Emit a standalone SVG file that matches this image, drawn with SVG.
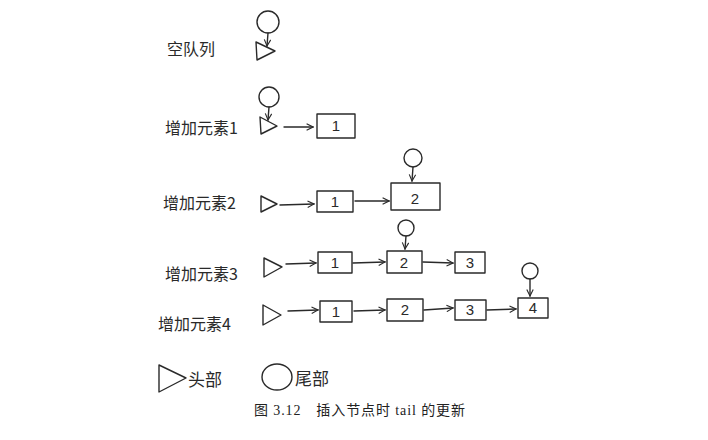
<svg xmlns="http://www.w3.org/2000/svg" width="708" height="440" viewBox="0 0 708 440">
<style>
.s{fill:none;stroke:#2a2a2a;stroke-width:1.4;stroke-linecap:round;stroke-linejoin:round}
.lab{font-family:"Noto Sans CJK SC",sans-serif;font-size:16px;fill:#2a2a2a}
.num{font-family:"Liberation Sans",sans-serif;font-size:15px;fill:#2a2a2a;text-anchor:middle}
.cap{font-family:"Liberation Serif","Noto Sans CJK SC",serif;font-size:14px;fill:#222}
</style>
<defs>
<marker id="ah" viewBox="0 0 10 10" refX="9" refY="5" markerWidth="8" markerHeight="8" markerUnits="userSpaceOnUse" orient="auto">
<path d="M1,1 L9,5 L1,9" fill="none" stroke="#2a2a2a" stroke-width="1.4"/>
</marker>
</defs>
<rect width="708" height="440" fill="#fff"/>

<g id="row0">
<text class="lab" x="167" y="55">空队列</text>
<circle class="s" cx="268" cy="22" r="11"/>
<polygon id="head0" class="s" points="256,42 275,51 257,60"/>
</g>

<g id="row1">
<text class="lab" x="165" y="134">增加元素1</text>
<circle class="s" cx="269" cy="97" r="10"/>
<polygon class="s" points="260,117 277,126 261,134"/>
<g id="r1n1"><rect class="s" x="317" y="114" width="38" height="24"/><text class="num" x="336" y="131">1</text></g>
</g>

<g id="row2">
<text class="lab" x="163" y="209">增加元素2</text>
<polygon class="s" points="261,196 277,204 261,212"/>
<g id="r2n1"><rect class="s" x="317" y="191" width="36" height="21"/><text class="num" x="335" y="207">1</text></g>
<g id="r2n2"><rect class="s" x="391" y="183" width="49" height="27"/><text class="num" x="415" y="204">2</text></g>
<circle class="s" cx="413" cy="158" r="9"/>
</g>

<g id="row3">
<text class="lab" x="165" y="280">增加元素3</text>
<polygon class="s" points="264,258 282,267 264,277"/>
<g id="r3n1"><rect class="s" x="318" y="252" width="34" height="21"/><text class="num" x="335" y="268">1</text></g>
<g id="r3n2"><rect class="s" x="387" y="251" width="35" height="22"/><text class="num" x="404" y="268">2</text></g>
<g id="r3n3"><rect class="s" x="455" y="252" width="30" height="21"/><text class="num" x="470" y="268">3</text></g>
<circle class="s" cx="406" cy="228" r="8"/>
</g>

<g id="row4">
<text class="lab" x="158" y="330">增加元素4</text>
<polygon class="s" points="263,305 281,315 263,325"/>
<g id="r4n1"><rect class="s" x="320" y="301" width="32" height="21"/><text class="num" x="336" y="317">1</text></g>
<g id="r4n2"><rect class="s" x="387" y="299" width="36" height="22"/><text class="num" x="405" y="315">2</text></g>
<g id="r4n3"><rect class="s" x="455" y="300" width="31" height="20"/><text class="num" x="470" y="315">3</text></g>
<g id="r4n4"><rect class="s" x="518" y="298" width="30" height="20"/><text class="num" x="533" y="313">4</text></g>
<circle class="s" cx="530" cy="271" r="8"/>
</g>

<g id="legend">
<polygon class="s" points="159,365 186,378 159,392"/>
<text class="lab" x="188" y="386" style="font-size:17px">头部</text>
<ellipse class="s" cx="277" cy="377" rx="15" ry="13"/>
<text class="lab" x="295" y="385" style="font-size:17px">尾部</text>
</g>

<g id="connectors">
<line class="s" x1="268" y1="33" x2="267" y2="46" marker-end="url(#ah)"/>
<line class="s" x1="269" y1="107" x2="268" y2="120" marker-end="url(#ah)"/>
<line class="s" x1="284" y1="127" x2="313" y2="127" marker-end="url(#ah)"/>
<line class="s" x1="280" y1="205" x2="314" y2="204" marker-end="url(#ah)"/>
<line class="s" x1="355" y1="201" x2="389" y2="201" marker-end="url(#ah)"/>
<line class="s" x1="413" y1="167" x2="412" y2="181" marker-end="url(#ah)"/>
<line class="s" x1="286" y1="264" x2="316" y2="263" marker-end="url(#ah)"/>
<line class="s" x1="353" y1="263" x2="385" y2="262" marker-end="url(#ah)"/>
<line class="s" x1="423" y1="262" x2="453" y2="263" marker-end="url(#ah)"/>
<line class="s" x1="406" y1="236" x2="405" y2="249" marker-end="url(#ah)"/>
<line class="s" x1="288" y1="311" x2="318" y2="310" marker-end="url(#ah)"/>
<line class="s" x1="354" y1="311" x2="385" y2="310" marker-end="url(#ah)"/>
<line class="s" x1="424" y1="310" x2="453" y2="308" marker-end="url(#ah)"/>
<line class="s" x1="487" y1="310" x2="516" y2="309" marker-end="url(#ah)"/>
<line class="s" x1="530" y1="279" x2="530" y2="296" marker-end="url(#ah)"/>
</g>

<text class="cap" x="254" y="415" textLength="211">图 3.12　插入节点时 tail 的更新</text>
</svg>
